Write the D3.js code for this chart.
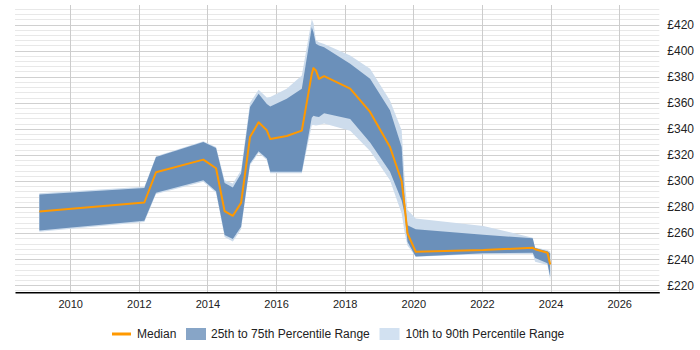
<!DOCTYPE html>
<html>
<head>
<meta charset="utf-8">
<script src="https://d3js.org/d3.v7.min.js"></script>
<style>
body { margin: 0; background: #fff; }
text { font-family: "Liberation Sans", Arial, sans-serif; fill: #222; }
</style>
</head>
<body>
<script>
// decimal years of each sample
var dates = [2009.10, 2012.16, 2012.50, 2013.88, 2014.25, 2014.50, 2014.74, 2014.98, 2015.24, 2015.49,
             2015.73, 2015.83, 2016.31, 2016.75, 2017.04, 2017.09, 2017.16, 2017.25, 2017.40, 2018.16,
             2018.74, 2019.32, 2019.66, 2019.75, 2019.83, 2020.07, 2022.04, 2023.48, 2023.55, 2023.91, 2023.99];
var p10 = [261, 268.5, 290, 299.5, 291, 257, 253.5, 263, 312, 321.5,
           316, 306, 306, 306, 342.7, 343, 342.5, 343, 344, 338.5,
           323, 300.6, 275, 260, 250.5, 241.9, 244, 244, 238, 235.5, 224];
var p25 = [262, 269.5, 291, 300.6, 292.2, 258.5, 255.4, 264.9, 313.4, 322.8,
           317.2, 307, 307, 307, 348.6, 350, 349.5, 349, 352, 347.5,
           329.5, 307, 285, 274.5, 253.4, 242, 244.5, 245, 241, 236.8, 226.6];
var median = [276.6, 283.5, 306.7, 316.4, 309.8, 276.9, 273.3, 283.2, 333.7, 345,
              338.9, 332.2, 334.5, 338.6, 382, 386.6, 384.8, 378.4, 380.4, 370.8,
              353, 326.1, 299.8, 280, 259.8, 245.7, 247, 248.8, 247.6, 245, 236];
var p75 = [289.7, 294.7, 318.4, 329.9, 325.3, 298.5, 295, 305.7, 356.7, 367,
           359, 357.2, 363, 370.8, 418, 414, 405.2, 404, 402.5, 389.9,
           378.4, 354.2, 326.1, 285, 266, 263, 258.7, 256, 248.5, 246, 244.5];
var p90 = [290.5, 295.5, 319, 330.5, 326, 300.5, 298, 308.3, 360, 370,
           364, 364.4, 370.8, 381, 424, 421, 408, 406.5, 405, 396.3,
           386.1, 361.8, 339, 300, 278, 271.3, 265.5, 256.5, 249, 247, 246];

var xTicks = [2010, 2012, 2014, 2016, 2018, 2020, 2022, 2024, 2026];
var yTicks = [220, 240, 260, 280, 300, 320, 340, 360, 380, 400, 420];
var yMinor = d3.range(216, 436, 4);
var legendItems = ["Median", "25th to 75th Percentile Range", "10th to 90th Percentile Range"];

var W = 700, H = 350;
var plotL = 15, plotR = 659.3, plotT = 5, plotB = 292.3;

var x = d3.scaleLinear().domain([2008.39, 2027.17]).range([plotL, plotR]);
var y = d3.scaleLinear().domain([214.6, 435]).range([plotB, plotT]);

var svg = d3.select("body").append("svg").attr("width", W).attr("height", H);

// grid
var grid = svg.append("g").attr("class", "grid");
grid.selectAll("line.minor").data(yMinor.filter(function(v) { return v % 20 != 0; }))
  .enter().append("line").attr("class", "minor")
  .attr("x1", plotL).attr("x2", plotR)
  .attr("y1", function(v) { return Math.round(y(v)) + 0.5; })
  .attr("y2", function(v) { return Math.round(y(v)) + 0.5; })
  .style("stroke", "#e8e8e8");
grid.selectAll("line.major").data(yMinor.filter(function(v) { return v % 20 == 0; }))
  .enter().append("line").attr("class", "major")
  .attr("x1", plotL).attr("x2", plotR)
  .attr("y1", function(v) { return Math.round(y(v)) + 0.5; })
  .attr("y2", function(v) { return Math.round(y(v)) + 0.5; })
  .style("stroke", "#d0d0d0");
grid.selectAll("line.vert").data(xTicks)
  .enter().append("line").attr("class", "vert")
  .attr("x1", function(d) { return Math.round(x(d)) + 0.5; })
  .attr("x2", function(d) { return Math.round(x(d)) + 0.5; })
  .attr("y1", plotT).attr("y2", plotB)
  .style("stroke", "#cccccc");

// bands
var idx = d3.range(dates.length);
var outer = d3.area()
  .x(function(i) { return x(dates[i]); })
  .y0(function(i) { return y(p10[i]); })
  .y1(function(i) { return y(p90[i]); });
var inner = d3.area()
  .x(function(i) { return x(dates[i]); })
  .y0(function(i) { return y(p25[i]); })
  .y1(function(i) { return y(p75[i]); });
var medLine = d3.line()
  .x(function(i) { return x(dates[i]); })
  .y(function(i) { return y(median[i]); });

svg.append("path").datum(idx).attr("d", outer).style("fill", "#cddcec");
svg.append("path").datum(idx).attr("d", inner).style("fill", "#6b90ba");
svg.append("path").datum(idx).attr("d", medLine)
  .style("fill", "none").style("stroke", "#ff9900").style("stroke-width", 2)
  .style("stroke-linejoin", "round");

// x axis
var xAxis = svg.append("g").attr("transform", "translate(0," + plotB + ")")
  .call(d3.axisBottom(x).tickValues(xTicks).tickFormat(d3.format("d")).tickSize(0).tickSizeOuter(0).tickPadding(8));
xAxis.select(".domain").style("stroke", "#000").style("stroke-width", 1.5);
xAxis.selectAll("text").style("font-size", "11px").style("fill", "#222");

// y axis labels
var yAxis = svg.append("g").attr("transform", "translate(" + (plotR + 7) + ",0)")
  .call(d3.axisRight(y).tickValues(yTicks).tickFormat(function(d) { return "£" + d; }).tickSize(0).tickPadding(1));
yAxis.select(".domain").remove();
yAxis.selectAll("text").style("font-size", "12px").style("fill", "#222");

// legend
var lg = svg.append("g").attr("transform", "translate(0,334)");
lg.append("line").attr("x1", 112).attr("x2", 131).attr("y1", 0).attr("y2", 0)
  .style("stroke", "#ff9900").style("stroke-width", 3);
lg.append("text").attr("x", 137).attr("y", 4).style("font-size", "12px").text(legendItems[0]);
lg.append("rect").attr("x", 186).attr("y", -6).attr("width", 20).attr("height", 12).style("fill", "#87a5c7");
lg.append("text").attr("x", 211).attr("y", 4).style("font-size", "12px").text(legendItems[1]);
lg.append("rect").attr("x", 379.5).attr("y", -6).attr("width", 20).attr("height", 12).style("fill", "#d2e1f1");
lg.append("text").attr("x", 405.5).attr("y", 4).style("font-size", "12px").text(legendItems[2]);
</script>
</body>
</html>
